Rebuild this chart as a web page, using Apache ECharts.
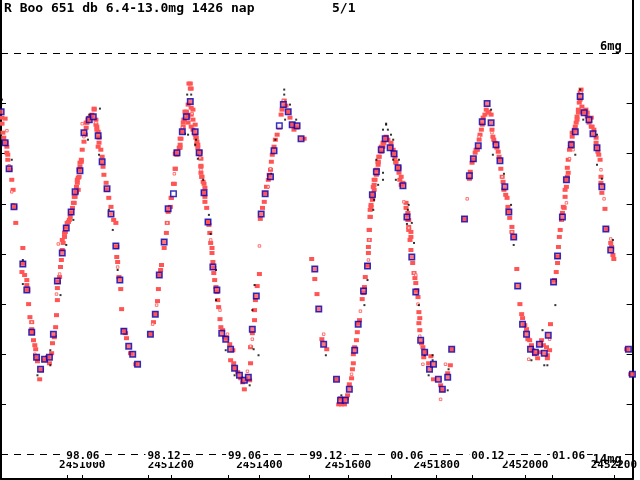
<!DOCTYPE html>
<html>
<head>
<meta charset="utf-8">
<script src="https://cdn.jsdelivr.net/npm/echarts@6/dist/echarts.min.js"></script>
<style>html,body{margin:0;padding:0;background:#fff}#c{width:640px;height:480px}</style>
</head>
<body>
<div id="c"></div>
<script>
// ---- data (JD, visual magnitude) ----
const titleText = 'R Boo 651 db 6.4-13.0mg 1426 nap';
const pageText = '5/1';
const jdTicks = [2451000, 2451200, 2451400, 2451600, 2451800, 2452000, 2452200];
const monthTicks = [2450965.5, 2451148.5, 2451330.5, 2451513.5, 2451696.5, 2451879.5, 2452061.5];
const monthLabels = ['98.06', '98.12', '99.06', '99.12', '00.06', '00.12', '01.06'];
const magTicks = [7, 8, 9, 10, 11, 12, 13];
const magLimits = [6, 14];
const magLimitLabels = ['6mg', '14mg'];

const redObs = [
[2450819,7.28],[2450826,7.30],[2450819,7.40],[2450821,7.58],[2450823,7.68],[2450828,7.78],[2450830,7.86],[2450830,7.98],
[2450832,8.02],[2450832,8.12],[2450837,8.32],[2450841,8.52],[2450844,8.72],[2450848,9.06],[2450850,9.38],[2450866,9.88],
[2450866,10.18],[2450864,10.36],[2450870,10.42],[2450875,10.52],[2450875,10.62],[2450877,10.72],[2450879,11.00],[2450882,11.26],
[2450886,11.36],[2450886,11.50],[2450888,11.58],[2450890,11.72],[2450893,11.82],[2450895,11.90],[2450897,12.06],[2450899,12.14],
[2450904,12.50],[2450908,12.32],[2450915,12.12],[2450922,12.06],[2450926,12.18],[2450931,11.98],[2450933,11.78],[2450937,11.66],
[2450940,11.46],[2450942,11.22],[2450944,10.92],[2450944,10.68],[2450946,10.56],[2450949,10.46],[2450951,10.26],[2450953,10.12],
[2450955,9.92],[2450957,9.78],[2450960,9.66],[2450962,9.56],[2450966,9.38],[2450971,9.32],[2450975,9.18],[2450980,8.98],
[2450982,8.86],[2450987,8.76],[2450989,8.58],[2450991,8.48],[2450993,8.32],[2450995,8.18],[2450998,8.12],[2451000,7.92],
[2451004,7.76],[2451007,7.62],[2451009,7.48],[2451011,7.38],[2451016,7.28],[2451022,7.22],[2451027,7.12],[2451031,7.32],
[2451033,7.46],[2451036,7.56],[2451038,7.78],[2451042,7.92],[2451045,8.06],[2451047,8.26],[2451049,8.42],[2451054,8.58],
[2451056,8.72],[2451060,8.88],[2451065,9.06],[2451071,9.32],[2451076,9.38],[2451078,9.86],[2451078,10.06],[2451080,10.16],
[2451083,10.46],[2451087,10.70],[2451089,11.10],[2451094,11.52],[2451098,11.58],[2451100,11.68],[2451109,11.98],[2451121,12.20],
[2451009,7.38],[2451013,7.32],[2451020,7.26],[2451027,7.10],[2451031,7.42],[2451033,7.52],[2451038,7.68],[2451036,7.86],
[2450984,8.86],[2450987,8.66],[2450989,8.52],[2450993,8.46],[2450995,8.26],[2450998,8.16],[2450991,8.72],[2450982,8.98],
[2450978,9.08],[2450973,9.26],[2450969,9.36],[2450964,9.46],[2450960,9.58],[2450955,9.72],
[2451154,11.60],[2451161,11.36],[2451165,11.20],[2451170,10.94],[2451172,10.70],[2451174,10.42],[2451177,10.32],[2451179,10.22],
[2451185,9.88],[2451190,9.58],[2451192,9.38],[2451194,9.16],[2451199,9.06],[2451201,8.88],[2451206,8.60],[2451210,8.30],
[2451214,8.02],[2451221,7.88],[2451221,7.70],[2451226,7.56],[2451230,7.32],[2451235,7.16],[2451239,7.02],[2451241,6.60],
[2451246,6.70],[2451250,7.12],[2451255,7.42],[2451257,7.68],[2451261,7.82],[2451264,7.98],[2451268,8.26],[2451270,8.46],
[2451275,8.78],[2451277,8.96],[2451281,9.08],[2451284,9.36],[2451288,9.58],[2451290,9.78],[2451293,9.98],[2451295,10.16],
[2451297,10.38],[2451299,10.52],[2451302,10.66],[2451306,10.92],[2451311,11.30],[2451313,11.46],[2451322,11.66],[2451333,11.80],
[2451335,12.12],[2451342,12.18],[2451351,12.36],[2451358,12.48],[2451366,12.70],[2451378,12.52],[2451380,12.18],[2451380,11.86],
[2451244,6.60],[2451244,6.70],[2451246,7.08],[2451232,7.16],[2451235,7.18],[2451239,7.26],[2451246,7.22],[2451250,7.32],
[2451230,7.32],[2451228,7.38],[2451228,7.46],[2451239,7.38],[2451246,7.46],[2451250,7.52],[2451255,7.62],[2451257,7.68],
[2451259,7.76],[2451259,7.82],[2451261,7.88],[2451266,7.96],[2451268,8.10],[2451268,8.24],[2451268,8.38],[2451270,8.46],
[2451273,8.56],[2451275,8.60],[2451277,8.68],[2451277,8.86],[2451223,7.70],[2451221,7.82],[2451219,7.88],[2451212,7.96],
[2451210,8.00],[2451210,8.30],[2451208,8.60],[2451201,8.88],
[2451286,9.42],[2451293,9.88],[2451297,10.28],[2451304,10.76],[2451308,11.06],[2451317,11.52],[2451326,11.68],[2451340,11.92],
[2451346,12.28],[2451362,12.56],
[2451384,11.58],[2451389,11.32],[2451389,11.12],[2451391,10.92],[2451395,10.64],[2451400,10.40],[2451402,9.30],[2451407,9.08],
[2451411,8.96],[2451413,8.78],[2451416,8.66],[2451420,8.52],[2451422,8.42],[2451425,8.32],[2451427,8.16],[2451429,8.02],
[2451433,7.86],[2451436,7.72],[2451440,7.62],[2451445,7.48],[2451449,7.22],[2451451,7.12],[2451456,6.94],[2451460,7.04],
[2451465,7.16],[2451469,7.28],[2451474,7.42],[2451478,7.52],[2451485,7.48],[2451501,7.70],[2451518,10.10],[2451525,10.50],
[2451530,10.80],[2451541,11.70],[2451552,11.90],
[2451574,12.50],[2451579,13.00],[2451585,13.00],[2451592,13.00],[2451599,12.82],[2451603,12.60],[2451608,12.48],[2451610,12.30],
[2451583,12.88],[2451590,12.96],[2451596,12.88],
[2451612,12.18],[2451612,12.00],[2451615,11.86],[2451619,11.72],[2451621,11.56],[2451623,11.38],[2451626,11.32],[2451632,10.90],
[2451635,10.78],[2451637,10.66],[2451639,10.46],[2451644,10.22],[2451646,9.98],[2451646,9.86],[2451648,9.72],[2451648,9.52],
[2451650,9.26],[2451652,9.06],[2451655,8.82],[2451657,8.66],[2451659,8.52],[2451664,8.32],[2451668,8.16],[2451670,8.06],
[2451675,7.86],[2451679,7.78],[2451686,7.66],[2451690,7.72],[2451697,7.86],[2451702,7.98],[2451708,8.16],[2451715,8.28],
[2451686,7.72],[2451681,7.78],[2451679,7.86],[2451675,7.96],[2451670,8.06],[2451668,8.16],[2451668,8.22],[2451666,8.32],
[2451664,8.42],[2451661,8.52],[2451659,8.62],[2451659,8.72],[2451657,8.82],[2451655,8.92],[2451652,9.02],[2451650,9.12],
[2451650,9.26],[2451648,9.52],[2451697,7.78],[2451702,7.92],[2451704,7.98],[2451706,8.08],[2451708,8.18],[2451713,8.26],
[2451715,8.38],[2451717,8.52],[2451720,8.62],[2451731,9.08],[2451735,9.22],[2451735,9.32],[2451737,9.46],[2451742,9.56],
[2451742,9.66],
[2451720,8.46],[2451724,8.58],[2451731,8.98],[2451735,9.18],[2451737,9.32],[2451737,9.52],[2451740,9.72],[2451742,9.92],
[2451746,10.18],[2451749,10.38],[2451753,10.58],[2451758,10.86],[2451760,11.16],[2451760,11.38],[2451762,11.52],[2451766,11.78],
[2451751,10.48],[2451755,10.72],[2451762,11.28],
[2451769,11.86],[2451771,12.06],[2451775,11.96],[2451782,12.18],[2451787,12.04],[2451793,12.50],[2451809,12.62],[2451813,12.72],
[2451825,12.38],[2451831,12.22],[2451834,11.90],
[2451863,9.30],[2451874,8.50],[2451876,8.36],[2451880,8.18],[2451887,7.98],[2451892,7.92],[2451896,7.72],[2451901,7.52],
[2451905,7.28],[2451909,7.22],[2451916,7.18],[2451923,7.22],[2451925,7.52],[2451927,7.66],[2451932,7.78],[2451939,7.96],
[2451883,8.12],[2451889,7.92],[2451898,7.62],[2451903,7.42],[2451912,7.12],[2451918,7.16],[2451929,7.72],[2451936,7.88],
[2451943,8.12],[2451952,8.72],[2451956,8.82],[2451963,9.16],
[2451941,8.06],[2451945,8.30],[2451948,8.46],[2451950,8.56],[2451959,8.88],[2451961,9.06],[2451965,9.28],[2451970,9.46],
[2451970,9.56],[2451974,9.66],[2451981,10.30],[2451988,11.00],[2451992,11.20],[2451999,11.42],[2452003,11.50],[2452006,11.70],
[2452014,11.82],[2452021,12.00],[2452028,12.08],[2452037,11.72],[2452048,11.86],[2452050,12.02],[2452050,12.08],[2452057,11.40],
[2451994,11.28],[2452010,11.72],[2452017,11.92],[2452032,11.96],[2452041,11.82],[2452055,11.92],
[2452066,10.52],[2452070,10.36],[2452073,10.18],[2452073,10.06],[2452075,9.86],[2452077,9.66],[2452079,9.52],[2452082,9.32],
[2452084,9.18],[2452088,9.08],[2452090,8.86],[2452093,8.66],[2452095,8.46],[2452095,8.28],[2452097,8.12],[2452100,7.92],
[2452104,7.78],[2452106,7.66],[2452111,7.52],[2452115,7.38],[2452117,7.26],[2452120,7.12],[2452122,6.98],[2452124,6.78],
[2452086,9.06],[2452090,8.72],[2452093,8.52],[2452097,8.38],[2452102,7.86],[2452106,7.58],[2452113,7.46],[2452117,7.32],
[2452120,7.18],[2452124,6.92],[2452128,7.16],[2452133,7.16],[2452140,7.26],[2452144,7.38],[2452149,7.46],[2452160,7.78],
[2452166,8.02],
[2452126,6.72],[2452128,7.06],[2452137,7.12],[2452140,7.18],[2452149,7.28],[2452151,7.46],[2452155,7.52],[2452160,7.68],
[2452162,7.86],[2452164,7.96],[2452169,8.12],[2452171,8.46],[2452171,8.58],[2452173,8.78],[2452180,9.10],[2452184,9.50],
[2452193,9.78],[2452195,9.86],[2452198,10.02],[2452200,10.10],[2452229,11.90],[2452238,12.40]
];

const redOpen = [
[2450835,8.24],[2450844,9.02],[2450830,7.54],[2450841,8.76],[2450886,11.36],[2450893,12.00],[2450942,10.80],[2450946,9.80],
[2450949,10.40],[2451000,7.40],[2451004,7.66],[2451031,7.38],[2451045,8.16],[2451080,10.26],[2451159,11.40],[2451168,11.02],
[2451192,9.38],[2451199,9.06],[2451208,8.40],[2451226,7.48],[2451248,7.20],[2451266,8.08],[2451268,8.32],[2451290,9.72],
[2451311,11.12],[2451328,11.60],[2451373,12.34],[2451380,11.84],[2451384,11.70],[2451400,9.84],[2451420,8.66],[2451425,8.30],
[2451454,6.94],[2451545,11.60],[2451608,12.40],[2451628,11.14],[2451646,10.12],[2451648,9.72],[2451726,8.96],[2451737,9.48],
[2451749,10.38],[2451762,11.64],[2451753,10.42],[2451758,11.00],[2451769,12.20],[2451809,12.90],[2451820,12.20],[2451869,8.90],
[2451896,7.66],[2451925,7.58],[2451948,8.46],[2451970,9.56],[2452008,12.10],[2452055,11.70],[2452084,9.32],[2452093,8.98],
[2452100,8.10],[2452108,7.92],[2452126,6.78],[2452153,7.60],[2452171,8.32],[2452175,8.62],[2452178,8.90],[2452193,9.70]
];

const blackObs = [
[2450819,6.92],[2450817,7.02],[2450841,8.12],[2450866,10.12],[2450866,10.60],[2450899,12.42],[2450928,11.92],[2450928,12.22],
[2450951,10.82],[2450964,9.82],[2450980,9.32],[2451013,7.72],[2451016,7.22],[2451040,7.10],[2451038,8.02],[2451060,9.12],
[2451069,9.52],[2451080,10.32],[2451237,6.82],[2451246,6.82],[2451239,7.62],[2451255,7.82],[2451261,8.02],[2451273,8.52],
[2451286,9.22],[2451290,9.60],[2451302,10.32],[2451302,10.92],[2451324,11.92],[2451344,12.42],[2451378,12.62],[2451387,11.90],
[2451398,12.02],[2451384,11.12],[2451389,10.62],[2451427,8.40],[2451436,7.72],[2451456,6.72],[2451456,6.82],[2451469,7.02],
[2451483,7.32],[2451458,7.32],[2451550,12.02],[2451585,12.82],[2451637,11.02],[2451644,10.52],[2451659,8.92],[2451664,8.12],
[2451679,8.52],[2451686,7.40],[2451690,7.52],[2451697,7.62],[2451702,8.12],[2451708,8.52],[2451715,8.12],[2451737,9.02],
[2451744,9.38],[2451749,9.78],[2451760,11.02],[2451773,12.02],[2451791,12.02],[2451791,12.12],[2451782,12.42],[2451825,12.72],
[2451827,12.30],[2451923,7.12],[2451927,8.02],[2451952,8.40],[2451968,9.02],[2451974,9.82],[2452068,11.02],[2452039,11.52],
[2452043,12.22],[2452050,12.22],[2452014,12.12],[2452113,8.02],[2452124,6.72],[2452131,7.32],[2452162,7.62],[2452162,8.22],
[2452173,8.50],[2452198,9.72],
[2451686,7.42],[2451679,7.52],[2451702,7.72],[2451679,8.38],[2451668,8.62],[2451657,9.12],[2451735,9.12],[2451733,9.40],
[2451232,7.60],[2451257,7.72],[2451261,8.10]
];

const blueMeans = [
[2450817,7.16],[2450826,7.78],[2450835,8.30],[2450846,9.06],[2450866,10.20],[2450875,10.72],[2450886,11.56],[2450897,12.06],
[2450906,12.30],[2450915,12.10],[2450926,12.06],[2450935,11.60],[2450944,10.54],[2450955,9.98],[2450964,9.48],[2450975,9.16],
[2450984,8.76],[2450995,8.34],[2451004,7.58],[2451016,7.32],[2451025,7.26],[2451036,7.64],[2451045,8.16],[2451056,8.70],
[2451065,9.20],[2451076,9.84],[2451085,10.52],[2451094,11.54],[2451105,11.84],[2451114,12.00],[2451125,12.20],
[2451154,11.60],[2451165,11.20],[2451174,10.42],[2451185,9.76],[2451194,9.10],[2451214,7.98],[2451226,7.56],[2451235,7.26],
[2451244,6.96],[2451255,7.56],[2451264,7.98],[2451275,8.78],[2451284,9.36],[2451295,10.26],[2451304,10.72],[2451315,11.58],
[2451324,11.70],[2451335,11.90],[2451344,12.28],[2451355,12.42],[2451366,12.52],[2451375,12.46],[2451384,11.50],[2451393,10.84],
[2451404,9.20],[2451413,8.80],[2451425,8.46],[2451433,7.94],[2451454,7.02],[2451465,7.16],[2451474,7.42],[2451485,7.44],
[2451494,7.70],[2451525,10.30],[2451534,11.10],[2451545,11.80],
[2451574,12.50],[2451583,12.92],[2451594,12.92],[2451603,12.70],[2451615,11.92],[2451623,11.40],[2451635,10.74],[2451644,10.24],
[2451655,8.82],[2451664,8.36],[2451675,7.92],[2451684,7.70],[2451695,7.88],[2451704,8.00],[2451713,8.28],[2451724,8.64],
[2451733,9.26],[2451744,10.06],[2451753,10.76],[2451764,11.72],[2451773,11.96],[2451784,12.30],[2451793,12.20],[2451804,12.50],
[2451813,12.70],[2451825,12.46],[2451834,11.90],
[2451863,9.30],[2451874,8.44],[2451883,8.10],[2451894,7.84],[2451903,7.36],[2451914,7.00],[2451923,7.38],[2451934,7.82],
[2451943,8.14],[2451954,8.66],[2451963,9.16],[2451974,9.66],[2451983,10.64],[2451994,11.40],[2452003,11.60],[2452012,11.90],
[2452023,11.96],[2452032,11.80],[2452043,11.98],[2452052,11.62],[2452064,10.56],[2452073,10.04],[2452084,9.26],[2452093,8.52],
[2452104,7.82],[2452113,7.56],[2452124,6.86],[2452133,7.18],[2452144,7.32],[2452153,7.60],[2452162,7.88],[2452173,8.66],
[2452182,9.50],[2452193,9.92],[2452233,11.90],[2452242,12.40]
];

const blueOpen = [
[2451206,8.80],[2451445,7.44]
];

// ---- chart ----
const JD_MIN = 2450816.7, JD_MAX = 2452242.4;
const MAG_MIN = 4.933, MAG_MAX = 14.489;
const RED = '#ff5555', BLUE = '#0000b4';
const MONO = '"DejaVu Sans Mono", monospace';

const chart = echarts.init(document.getElementById('c'), null, {renderer: 'canvas'});

const monthSet = {};
monthTicks.forEach((v, i) => { monthSet[v] = monthLabels[i]; });

const option = {
  animation: false,
  backgroundColor: '#fff',
  title: [
    {text: titleText, left: 4, top: 2, padding: 0,
     textStyle: {fontFamily: MONO, fontWeight: 'bold', fontSize: 13, color: '#000'}},
    {text: pageText, left: 332, top: 2, padding: 0,
     textStyle: {fontFamily: MONO, fontWeight: 'bold', fontSize: 13, color: '#000'}}
  ],
  grid: {left: 1, right: 1, top: 0, bottom: 1, containLabel: false},
  xAxis: {
    type: 'value', min: JD_MIN, max: JD_MAX, z: 10,
    axisLine: {show: true, onZero: false, lineStyle: {color: '#000', width: 2}},
    axisTick: {show: true, inside: true, length: 4, customValues: jdTicks.concat(monthTicks),
               lineStyle: {color: '#000', width: 1}},
    splitLine: {show: false},
    axisLabel: {
      inside: true, margin: 8, customValues: jdTicks.concat(monthTicks),
      color: '#000', fontFamily: MONO, fontWeight: 'bold', fontSize: 11,
      formatter: function (v) {
        if (monthSet[v] !== undefined) return '{sp|}{m|' + monthSet[v] + '}\n{e|}';
        return '{j|' + v + '}';
      },
      rich: {
        sp: {width: 32},
        m: {fontFamily: MONO, fontWeight: 'bold', fontSize: 11, color: '#000', backgroundColor: '#fff', padding: [0, 2, 0, 2]},
        e: {height: 9},
        j: {fontFamily: MONO, fontWeight: 'bold', fontSize: 11, color: '#000'}
      }
    }
  },
  yAxis: [
    {type: 'value', inverse: true, min: MAG_MIN, max: MAG_MAX, position: 'left',
     axisLine: {show: true, onZero: false, lineStyle: {color: '#000', width: 2}},
     axisTick: {show: true, inside: true, length: 5, customValues: magTicks, lineStyle: {color: '#000'}},
     axisLabel: {show: false}, splitLine: {show: false}},
    {type: 'value', inverse: true, min: MAG_MIN, max: MAG_MAX, position: 'right',
     axisLine: {show: true, onZero: false, lineStyle: {color: '#000', width: 2}},
     axisTick: {show: true, inside: true, length: 6, customValues: magTicks, lineStyle: {color: '#000'}},
     axisLabel: {show: false}, splitLine: {show: false}}
  ],
  series: [
    {type: 'scatter', name: 'visual', data: redObs, symbol: 'rect', symbolSize: [5, 4],
     itemStyle: {color: RED, opacity: 1}, z: 2, silent: true,
     markLine: {
       silent: true, symbol: 'none', animation: false,
       lineStyle: {color: '#000', width: 1, type: [7, 6]},
       data: magLimits.map((m, i) => ({
         yAxis: m,
         label: {show: true, formatter: magLimitLabels[i],
                 position: i === 0 ? 'insideEndTop' : 'insideEndBottom',
                 distance: i === 0 ? [11, 1] : [11, -1],
                 color: '#000', fontFamily: MONO, fontWeight: 'bold', fontSize: 12,
                 backgroundColor: i === 0 ? 'transparent' : '#fff'}
       }))
     }},
    {type: 'scatter', name: 'visual (other)', data: redOpen, symbol: 'rect', symbolSize: 2.5,
     itemStyle: {color: '#fff', borderColor: RED, borderWidth: 1}, z: 3, silent: true},
    {type: 'scatter', name: 'ccd', data: blackObs, symbol: 'rect', symbolSize: 2,
     itemStyle: {color: '#000'}, z: 4, silent: true},
    {type: 'scatter', name: 'mean', data: blueMeans, symbol: 'rect', symbolSize: 5.5,
     itemStyle: {color: RED, borderColor: BLUE, borderWidth: 1.5}, z: 5, silent: true},
    {type: 'scatter', name: 'mean (open)', data: blueOpen, symbol: 'rect', symbolSize: 5.5,
     itemStyle: {color: '#fff', borderColor: BLUE, borderWidth: 1.5}, z: 5, silent: true}
  ]
};
chart.setOption(option);
</script>
</body>
</html>
